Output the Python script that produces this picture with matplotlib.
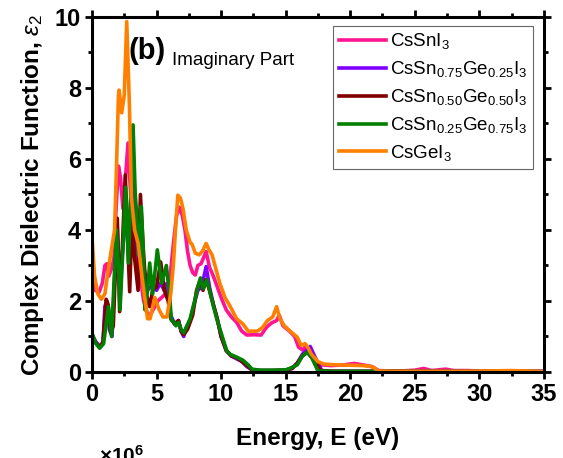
import matplotlib
matplotlib.use("Agg")
import matplotlib.pyplot as plt
from matplotlib.ticker import MultipleLocator

plt.rcParams['font.family'] = ['Liberation Sans', 'DejaVu Sans']
plt.rcParams['mathtext.fontset'] = 'custom'
plt.rcParams['mathtext.rm'] = 'Liberation Sans'
plt.rcParams['mathtext.it'] = 'Liberation Sans:italic'
plt.rcParams['mathtext.bf'] = 'Liberation Sans:bold'

labels = [r'CsSnI$_3$',
          r'CsSn$_{0.75}$Ge$_{0.25}$I$_3$',
          r'CsSn$_{0.50}$Ge$_{0.50}$I$_3$',
          r'CsSn$_{0.25}$Ge$_{0.75}$I$_3$',
          r'CsGeI$_3$']
colors = ['#FF1493', '#8000FF', '#800000', '#008000', '#FF8000']

# CsSnI3
pink_E = [0, 0.25, 0.55, 0.8, 1.0, 1.15, 1.3, 1.5, 1.7, 1.85, 2.05, 2.2, 2.4, 2.6, 2.79, 2.95,
          3.15, 3.4, 3.7, 4.0, 4.3, 4.5, 4.8, 5.1, 5.4, 5.7, 6.0, 6.3, 6.55, 6.77, 7.0, 7.2,
          7.4, 7.6, 7.8, 8.0, 8.2, 8.45, 8.84, 9.1, 9.4, 9.7, 10.0, 10.4, 10.8, 11.2, 11.6,
          12.0, 12.5, 13.1, 13.5, 13.9, 14.3, 14.5, 14.8, 15.3, 15.7, 16.0, 16.3, 16.55,
          16.9, 17.3, 17.8, 18.5, 19.5, 20.3, 21.0, 21.7, 22.2, 23, 24, 25, 25.7, 26.3,
          27.4, 28, 29, 30, 32, 35]
pink_v = [2.6, 2.3, 2.25, 2.5, 3.0, 3.05, 2.7, 2.9, 3.2, 4.5, 5.8, 5.5, 4.6, 5.5, 6.45, 5.3,
          4.0, 3.3, 2.8, 2.0, 1.65, 1.6, 1.8, 2.0, 2.1, 2.2, 2.5, 3.6, 4.4, 4.64, 4.4, 4.0,
          3.4, 3.0, 2.8, 2.73, 3.0, 3.05, 3.39, 2.95, 2.7, 2.4, 2.1, 1.75, 1.55, 1.4, 1.15,
          1.04, 1.05, 1.04, 1.25, 1.38, 1.45, 1.6, 1.3, 1.15, 1.0, 0.7, 0.62, 0.72,
          0.45, 0.3, 0.2, 0.18, 0.2, 0.24, 0.2, 0.15, 0.04, 0.03, 0.03, 0.05, 0.1, 0.04,
          0.08, 0.04, 0.04, 0.03, 0.03, 0.02]

# CsSn0.75Ge0.25I3
purple_E = [0, 0.3, 0.6, 0.85, 1.0, 1.15, 1.35, 1.55, 1.8, 1.95, 2.15, 2.4, 2.6, 2.8, 3.1,
            3.3, 3.55, 3.75, 4.0, 4.3, 4.5, 4.8, 5.0, 5.3, 5.6, 5.8, 6.1, 6.4, 6.7, 6.9,
            7.1, 7.3, 7.6, 7.9, 8.2, 8.5, 8.84, 9.1, 9.4, 9.7, 10.0, 10.4, 10.8, 11.2,
            11.6, 12.0, 12.4, 13, 14, 15, 15.5, 15.9, 16.3, 16.9, 17.3, 17.8, 18.5, 35]
purple_v = [1.05, 0.85, 0.72, 0.8, 1.85, 2.0, 1.2, 1.0, 3.0, 4.1, 2.6, 3.5, 5.0, 3.5, 5.5,
            3.8, 3.0, 4.6, 3.0, 2.3, 2.4, 2.4, 2.3, 2.5, 2.3, 2.5, 1.6, 1.35, 1.45, 1.15,
            1.0, 1.25, 1.45, 1.9, 2.3, 2.4, 2.97, 2.4, 1.9, 1.5, 1.0, 0.6, 0.45, 0.37,
            0.3, 0.15, 0.06, 0.04, 0.04, 0.05, 0.1, 0.25, 0.5, 0.72, 0.4, 0.04, 0.02, 0.01]

# CsSn0.50Ge0.50I3
dred_E = [0, 0.3, 0.6, 0.85, 1.1, 1.25, 1.45, 1.65, 1.96, 2.14, 2.35, 2.58, 2.75, 2.92, 3.1,
          3.3, 3.57, 3.75, 3.95, 4.2, 4.47, 4.7, 5.0, 5.32, 5.6, 5.9, 6.1, 6.4, 6.7, 6.9,
          7.1, 7.4, 7.8, 8.1, 8.4, 8.6, 8.84, 9.1, 9.4, 9.7, 10.0, 10.4, 10.8, 11.2, 11.6,
          12.0, 12.4, 13, 14, 15, 15.5, 15.9, 16.3, 16.8, 17.2, 17.7, 18.5, 35]
dred_v = [1.0, 0.82, 0.7, 0.85, 2.05, 1.9, 1.1, 1.3, 4.33, 1.7, 3.5, 5.55, 3.8, 2.26, 4.3,
          3.2, 2.3, 5.0, 3.6, 2.2, 1.84, 2.3, 2.4, 3.1, 2.3, 2.0, 1.5, 1.35, 1.45, 1.15,
          1.05, 1.2, 1.6, 2.3, 2.6, 2.3, 2.6, 2.3, 1.9, 1.5, 1.0, 0.6, 0.45, 0.4, 0.3,
          0.18, 0.06, 0.04, 0.04, 0.05, 0.1, 0.25, 0.45, 0.6, 0.4, 0.04, 0.02, 0.01]

# CsSn0.25Ge0.75I3
green_E = [0, 0.3, 0.6, 0.9, 1.27, 1.52, 1.7, 1.9, 2.05, 2.17, 2.4, 2.6, 2.82, 3.0, 3.18,
           3.35, 3.46, 3.6, 3.72, 3.82, 3.95, 4.1, 4.3, 4.47, 4.7, 5.06, 5.4, 5.76, 6.0,
           6.15, 6.35, 6.5, 6.7, 6.9, 7.1, 7.35, 7.6, 7.95, 8.2, 8.4, 8.6, 8.9, 9.1, 9.3,
           9.66, 9.92, 10.2, 10.44, 10.7, 11.2, 11.7, 12.1, 12.4, 13, 14, 15, 15.3, 15.9,
           16.3, 16.65, 17.0, 17.5, 18.5, 35]
green_v = [1.1, 0.8, 0.67, 0.8, 1.84, 1.0, 2.5, 4.0, 3.0, 1.75, 3.5, 5.2, 3.07, 5.0, 6.96,
           5.0, 4.47, 3.3, 3.25, 4.66, 3.6, 1.75, 2.3, 3.07, 2.2, 3.44, 2.5, 3.0, 2.2,
           1.46, 1.4, 1.3, 1.4, 1.2, 1.1, 1.3, 1.5, 2.0, 2.4, 2.65, 2.35, 2.6, 2.3, 2.0,
           1.5, 1.2, 0.87, 0.6, 0.5, 0.42, 0.33, 0.2, 0.08, 0.05, 0.05, 0.06, 0.1, 0.2,
           0.45, 0.55, 0.42, 0.03, 0.02, 0.01]

# CsGeI3
orange_E = [0, 0.2, 0.45, 0.72, 1.0, 1.23, 1.5, 1.75, 1.9, 2.05, 2.1, 2.3, 2.5, 2.69, 2.9,
            3.05, 3.3, 3.57, 3.9, 4.3, 4.5, 4.86, 5.2, 5.5, 5.8, 6.1, 6.3, 6.5, 6.65, 6.85,
            7.05, 7.3, 7.6, 7.75, 8.0, 8.3, 8.55, 8.84, 9.05, 9.3, 9.6, 9.9, 10.3, 10.7,
            11.2, 11.7, 12.1, 12.5, 12.8, 13.2, 13.6, 14.0, 14.3, 14.55, 14.9, 15.35, 15.9,
            16.2, 16.5, 16.7, 17.0, 17.5, 18.0, 19, 20, 21, 21.7, 22.2, 23, 26, 29, 32.5,
            35]
orange_v = [3.8, 2.7, 2.2, 2.05, 2.2, 2.8, 3.44, 4.0, 5.8, 7.8, 7.94, 7.3, 7.8, 9.87, 7.5,
            4.94, 4.0, 3.63, 2.6, 1.5, 1.5, 2.1, 1.75, 1.55, 1.55, 2.2, 3.0, 4.2, 4.98, 4.9,
            4.6, 4.0, 3.65, 3.6, 3.35, 3.3, 3.4, 3.62, 3.45, 3.3, 2.9, 2.5, 2.1, 1.85,
            1.5, 1.35, 1.15, 1.15, 1.15, 1.25, 1.45, 1.55, 1.84, 1.5, 1.3, 1.15, 0.98,
            0.75, 0.8, 0.7, 0.5, 0.29, 0.22, 0.2, 0.19, 0.18, 0.15, 0.03, 0.02, 0.02, 0.02,
            0.04, 0.01]

series_E = [pink_E, purple_E, dred_E, green_E, orange_E]
series_v = [pink_v, purple_v, dred_v, green_v, orange_v]

fig = plt.figure(figsize=(5.63, 4.58), dpi=100)
ax = fig.add_axes([0.1634, 0.1878, 0.8026, 0.7751])

for E, v, c, lab in zip(series_E, series_v, colors, labels):
    ax.plot(E, v, color=c, lw=2.6, label=lab, solid_joinstyle='round')

ax.set_xlim(0, 35)
ax.set_ylim(0, 10)
ax.xaxis.set_major_locator(MultipleLocator(5))
ax.xaxis.set_minor_locator(MultipleLocator(2.5))
ax.yaxis.set_major_locator(MultipleLocator(2))
ax.yaxis.set_minor_locator(MultipleLocator(1))
ax.tick_params(which='both', direction='out', top=True, right=True, width=2.0)
ax.tick_params(which='major', length=5, pad=3)
ax.tick_params(which='minor', length=3)
ax.tick_params(labelsize=17)
for lbl in ax.get_xticklabels() + ax.get_yticklabels():
    lbl.set_fontweight('bold')
for sp in ax.spines.values():
    sp.set_linewidth(2.2)

ax.set_xlabel('Energy, E (eV)', fontsize=17.5, fontweight='bold', labelpad=15)
ax.set_ylabel(r'Complex Dielectric Function, $\varepsilon_2$', fontsize=17.5,
              fontweight='bold', labelpad=6)

ax.text(0.08, 0.905, '(b)', transform=ax.transAxes, fontsize=21, fontweight='bold',
        va='center', ha='left')
ax.text(0.178, 0.865, 'Imaginary Part', transform=ax.transAxes, fontsize=13.5,
        va='baseline', ha='left')

leg = ax.legend(loc='upper right', bbox_to_anchor=(0.975, 0.975), fontsize=13.5,
                frameon=True, fancybox=False, edgecolor='#404040', handlelength=2.5,
                handletextpad=0.2, borderpad=0.3, labelspacing=0.42, borderaxespad=0)
leg.get_frame().set_linewidth(0.8)

fig.text(0.175, -0.02, r'$\mathbf{\times 10^6}$', fontsize=15, fontweight='bold',
         ha='left', va='bottom')

fig.savefig('out.png', dpi=100)
